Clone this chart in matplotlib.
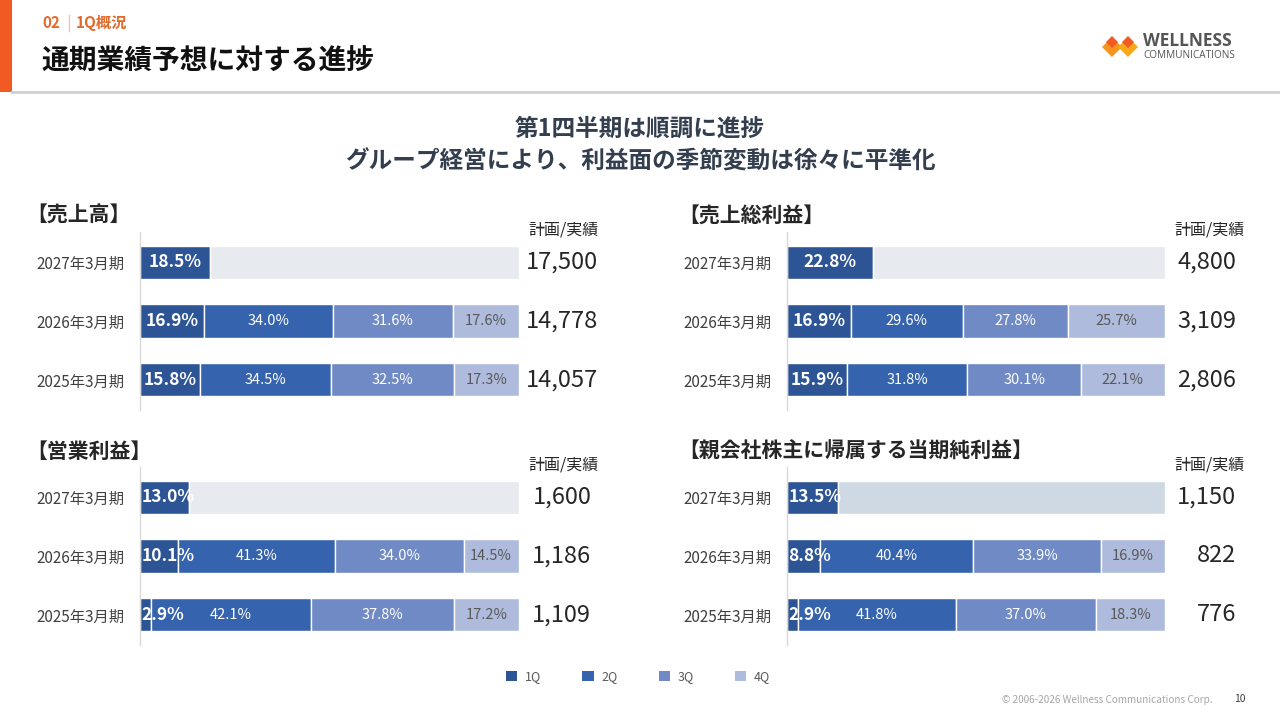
import matplotlib
matplotlib.use('Agg')
import matplotlib.pyplot as plt
import matplotlib.transforms as mtransforms
from matplotlib.patches import Patch, Rectangle, Polygon

plt.rcParams['font.family'] = ['Noto Sans CJK JP', 'DejaVu Sans']

# data
periods = ['2027年3月期', '2026年3月期', '2025年3月期']
quarters = ['1Q', '2Q', '3Q', '4Q']

sales_share = [[18.5], [16.9, 34.0, 31.6, 17.6], [15.8, 34.5, 32.5, 17.3]]
sales_total = ['17,500', '14,778', '14,057']

gross_share = [[22.8], [16.9, 29.6, 27.8, 25.7], [15.9, 31.8, 30.1, 22.1]]
gross_total = ['4,800', '3,109', '2,806']

op_share = [[13.0], [10.1, 41.3, 34.0, 14.5], [2.9, 42.1, 37.8, 17.2]]
op_total = ['1,600', '1,186', '1,109']

net_share = [[13.5], [8.8, 40.4, 33.9, 16.9], [2.9, 41.8, 37.0, 18.3]]
net_total = ['1,150', '822', '776']

q_colors = ['#2D5596', '#3563AE', '#6F8AC4', '#AFBBDC']
orange = '#F15A22'


def px_rect(left, top, right, bottom):
    return [left / 1280, 1 - bottom / 720, (right - left) / 1280, (bottom - top) / 720]


def draw_panel(ax, shares, totals, plan_color, value_x, value_ha):
    for i, row in enumerate(shares):
        left = 0
        for q, v in enumerate(row):
            ax.barh(i, v, left=left, height=0.56, color=q_colors[q],
                    edgecolor='white', linewidth=1)
            label = f'{v:.1f}%'
            if q == 0:
                if v < 15:
                    ax.text(0.3, i, label, ha='left', va='center', color='white',
                            fontsize=12.5, fontweight='bold')
                else:
                    ax.text(left + v / 2, i, label, ha='center', va='center',
                            color='white', fontsize=12.5, fontweight='bold')
            else:
                c = 'white' if q < 3 else '#595959'
                ax.text(left + v / 2, i, label, ha='center', va='center',
                        color=c, fontsize=10.5)
            left += v
        if len(row) == 1:
            ax.barh(i, 100 - left, left=left, height=0.56, color=plan_color,
                    edgecolor='white', linewidth=1)

    tr = mtransforms.blended_transform_factory(ax.transAxes, ax.transData)
    for i, t in enumerate(totals):
        ax.text(value_x, i, t, transform=tr, ha=value_ha, va='center',
                fontsize=17, color='#262626')
    ax.text(1.117, -0.54, '計画/実績', transform=tr, ha='center', va='center',
            fontsize=11.5, color='#262626')

    ax.set_xlim(0, 100)
    ax.set_ylim(2.51, -0.51)
    ax.set_xticks([])
    ax.set_yticks(range(len(periods)), periods)
    ax.tick_params(axis='y', length=0, pad=11, labelsize=11, labelcolor='#404040')
    for s in ['top', 'right', 'bottom']:
        ax.spines[s].set_visible(False)
    ax.spines['left'].set_color('#D9D9D9')
    ax.spines['left'].set_linewidth(1)
    ax.patch.set_alpha(0)


fig = plt.figure(figsize=(12.8, 7.2), dpi=100)

bg = fig.add_axes([0, 0, 1, 1])
bg.set_xlim(0, 1280)
bg.set_ylim(720, 0)
bg.axis('off')

# header
bg.add_patch(Rectangle((0, 0), 12, 92, color=orange, lw=0))
bg.plot([12, 1280], [92, 92], color='#D0D0D0', lw=2)
bg.text(42, 23, '02', color='#E26A2C', fontsize=11, fontweight='bold', va='center')
bg.plot([69, 69], [15, 31], color='#F2C2A8', lw=1)
bg.text(76, 23, '1Q概況', color='#E26A2C', fontsize=11, fontweight='bold', va='center')
bg.text(41, 62, '通期業績予想に対する進捗', color='#111111', fontsize=20,
        fontweight='bold', va='center')

# logo
for cx, col in [(1112, '#F7941D'), (1128, '#FAA61A')]:
    bg.add_patch(Polygon([(cx - 10, 47), (cx, 37), (cx + 10, 47), (cx, 57)], color=col, lw=0))
for cx in [1112, 1128]:
    bg.add_patch(Polygon([(cx - 6, 42), (cx, 36), (cx + 6, 42), (cx, 48)], color=orange, lw=0))
bg.text(1143, 41, 'WELLNESS', family='Open Sans', fontweight='bold', fontsize=12.5,
        color='#555555', va='center')
bg.text(1143, 55, 'COMMUNICATIONS', family='Open Sans', fontsize=7.2,
        color='#555555', va='center')

# subtitle
bg.text(640, 129, '第1四半期は順調に進捗', ha='center', va='center', fontsize=17,
        fontweight='bold', color='#333F4F')
bg.text(640, 162, 'グループ経営により、利益面の季節変動は徐々に平準化', ha='center',
        va='center', fontsize=17, fontweight='bold', color='#333F4F')

# panel titles
bg.text(26, 215, '【売上高】', fontsize=15, fontweight='bold', va='center', color='#262626')
bg.text(678, 215, '【売上総利益】', fontsize=15, fontweight='bold', va='center', color='#262626')
bg.text(26, 451, '【営業利益】', fontsize=15, fontweight='bold', va='center', color='#262626')
bg.text(678, 451, '【親会社株主に帰属する当期純利益】', fontsize=15, fontweight='bold',
        va='center', color='#262626')

ax1 = fig.add_axes(px_rect(140, 232, 519, 410))
draw_panel(ax1, sales_share, sales_total, '#E7EAEE', 1.113, 'center')
ax2 = fig.add_axes(px_rect(787, 232, 1165, 410))
draw_panel(ax2, gross_share, gross_total, '#E7EAEE', 1.188, 'right')
ax3 = fig.add_axes(px_rect(140, 467, 519, 645))
draw_panel(ax3, op_share, op_total, '#E7EAEE', 1.113, 'center')
ax4 = fig.add_axes(px_rect(787, 467, 1165, 645))
draw_panel(ax4, net_share, net_total, '#CFD9E4', 1.188, 'right')

# legend
handles = [Patch(facecolor=c, edgecolor='none') for c in q_colors]
fig.legend(handles, quarters, loc='center', bbox_to_anchor=(638 / 1280, 1 - 677 / 720),
           ncol=4, frameon=False, fontsize=9, handlelength=0.9, handleheight=0.9,
           handletextpad=0.6, columnspacing=3.3, labelcolor='#595959')

# footer
bg.text(1213, 700, '© 2006-2026 Wellness Communications Corp.', ha='right', va='center',
        fontsize=7.2, color='#A6A6A6')
bg.text(1240, 699, '10', ha='center', va='center', fontsize=7.5, color='#404040')

fig.savefig('out.png', dpi=100)
